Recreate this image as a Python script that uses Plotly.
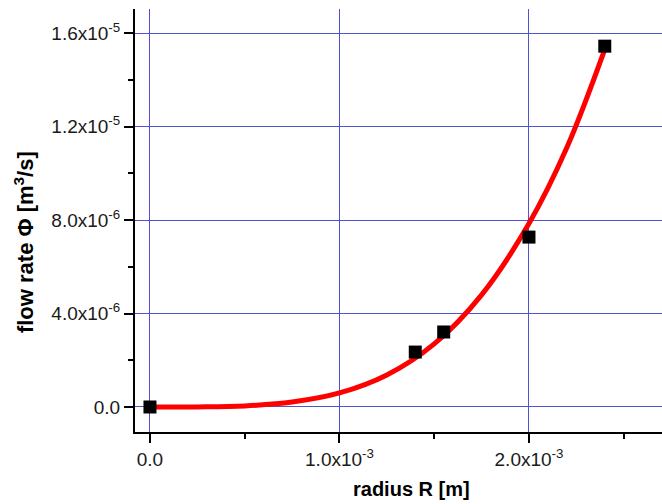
import plotly.graph_objects as go

# measured data points
radius = [0.0, 1.40e-3, 1.55e-3, 2.00e-3, 2.40e-3]
flow = [0.0, 2.35e-6, 3.21e-6, 7.27e-6, 15.44e-6]

# fitted curve
fit_r = [0.0, 0.25e-3, 0.5e-3, 0.75e-3, 1.0e-3, 1.25e-3, 1.5e-3, 1.75e-3, 2.0e-3, 2.2e-3, 2.4e-3]
fit_phi = [0.0, 0.003e-6, 0.046e-6, 0.21e-6, 0.6e-6, 1.37e-6, 2.7e-6, 4.8e-6, 7.85e-6, 11.1e-6, 15.3e-6]

x_ticks = [0.0, 1.0e-3, 2.0e-3]
x_labels = ["0.0", "1.0x10<sup>-3</sup>", "2.0x10<sup>-3</sup>"]
x_minor = [0.5e-3, 1.5e-3, 2.5e-3]
y_ticks = [0.0, 4.0e-6, 8.0e-6, 1.2e-5, 1.6e-5]
y_labels = ["0.0", "4.0x10<sup>-6</sup>", "8.0x10<sup>-6</sup>", "1.2x10<sup>-5</sup>", "1.6x10<sup>-5</sup>"]
y_minor = [2.0e-6, 6.0e-6, 1.0e-5, 1.4e-5]

x_title = "<b>radius R [m]</b>"
y_title = "<b>flow rate Φ [m<sup>3</sup>/s]</b>"

font_family = "Liberation Sans, Arial, sans-serif"
grid_color = "#5252d0"

fig = go.Figure()
fig.add_trace(go.Scatter(x=fit_r, y=fit_phi, mode="lines", line=dict(color="#ff0000", width=5, shape="spline"),
                         showlegend=False, hoverinfo="skip"))
fig.add_trace(go.Scatter(x=radius, y=flow, mode="markers",
                         marker=dict(symbol="square", size=13, color="#000000"), showlegend=False))

fig.update_layout(
    width=662, height=504,
    margin=dict(l=135, r=0, t=9, b=72),
    paper_bgcolor="white", plot_bgcolor="white",
    font=dict(family=font_family, size=19, color="#1a1a1a"),
    xaxis=dict(
        range=[-0.079e-3, 2.702e-3],
        tickmode="array", tickvals=x_ticks, ticktext=x_labels,
        tickfont=dict(size=19, color="#1a1a1a"),
        showgrid=True, gridcolor=grid_color, gridwidth=1,
        zeroline=False,
        showline=True, linecolor="black", linewidth=2,
        ticks="outside", ticklen=9, tickwidth=2, tickcolor="black",
        minor=dict(tickvals=x_minor, ticks="outside", ticklen=5, tickwidth=2, tickcolor="black", showgrid=False),
    ),
    yaxis=dict(
        range=[-1.07e-6, 17.03e-6],
        tickmode="array", tickvals=y_ticks, ticktext=y_labels,
        tickfont=dict(size=19, color="#1a1a1a"),
        showgrid=True, gridcolor=grid_color, gridwidth=1,
        zeroline=False,
        showline=True, linecolor="black", linewidth=2,
        ticks="outside", ticklen=9, tickwidth=2, tickcolor="black",
        minor=dict(tickvals=y_minor, ticks="outside", ticklen=5, tickwidth=2, tickcolor="black", showgrid=False),
    ),
    annotations=[
        dict(text=x_title, xref="paper", yref="paper", x=0.5247, y=-0.1348,
             xanchor="center", yanchor="middle", showarrow=False,
             font=dict(size=20, color="#000000", family=font_family)),
        dict(text=y_title, xref="paper", yref="paper", x=-0.2106, y=0.449,
             xanchor="center", yanchor="middle", showarrow=False, textangle=-90,
             font=dict(size=22, color="#000000", family=font_family)),
    ],
)

fig.write_html("out.html")
